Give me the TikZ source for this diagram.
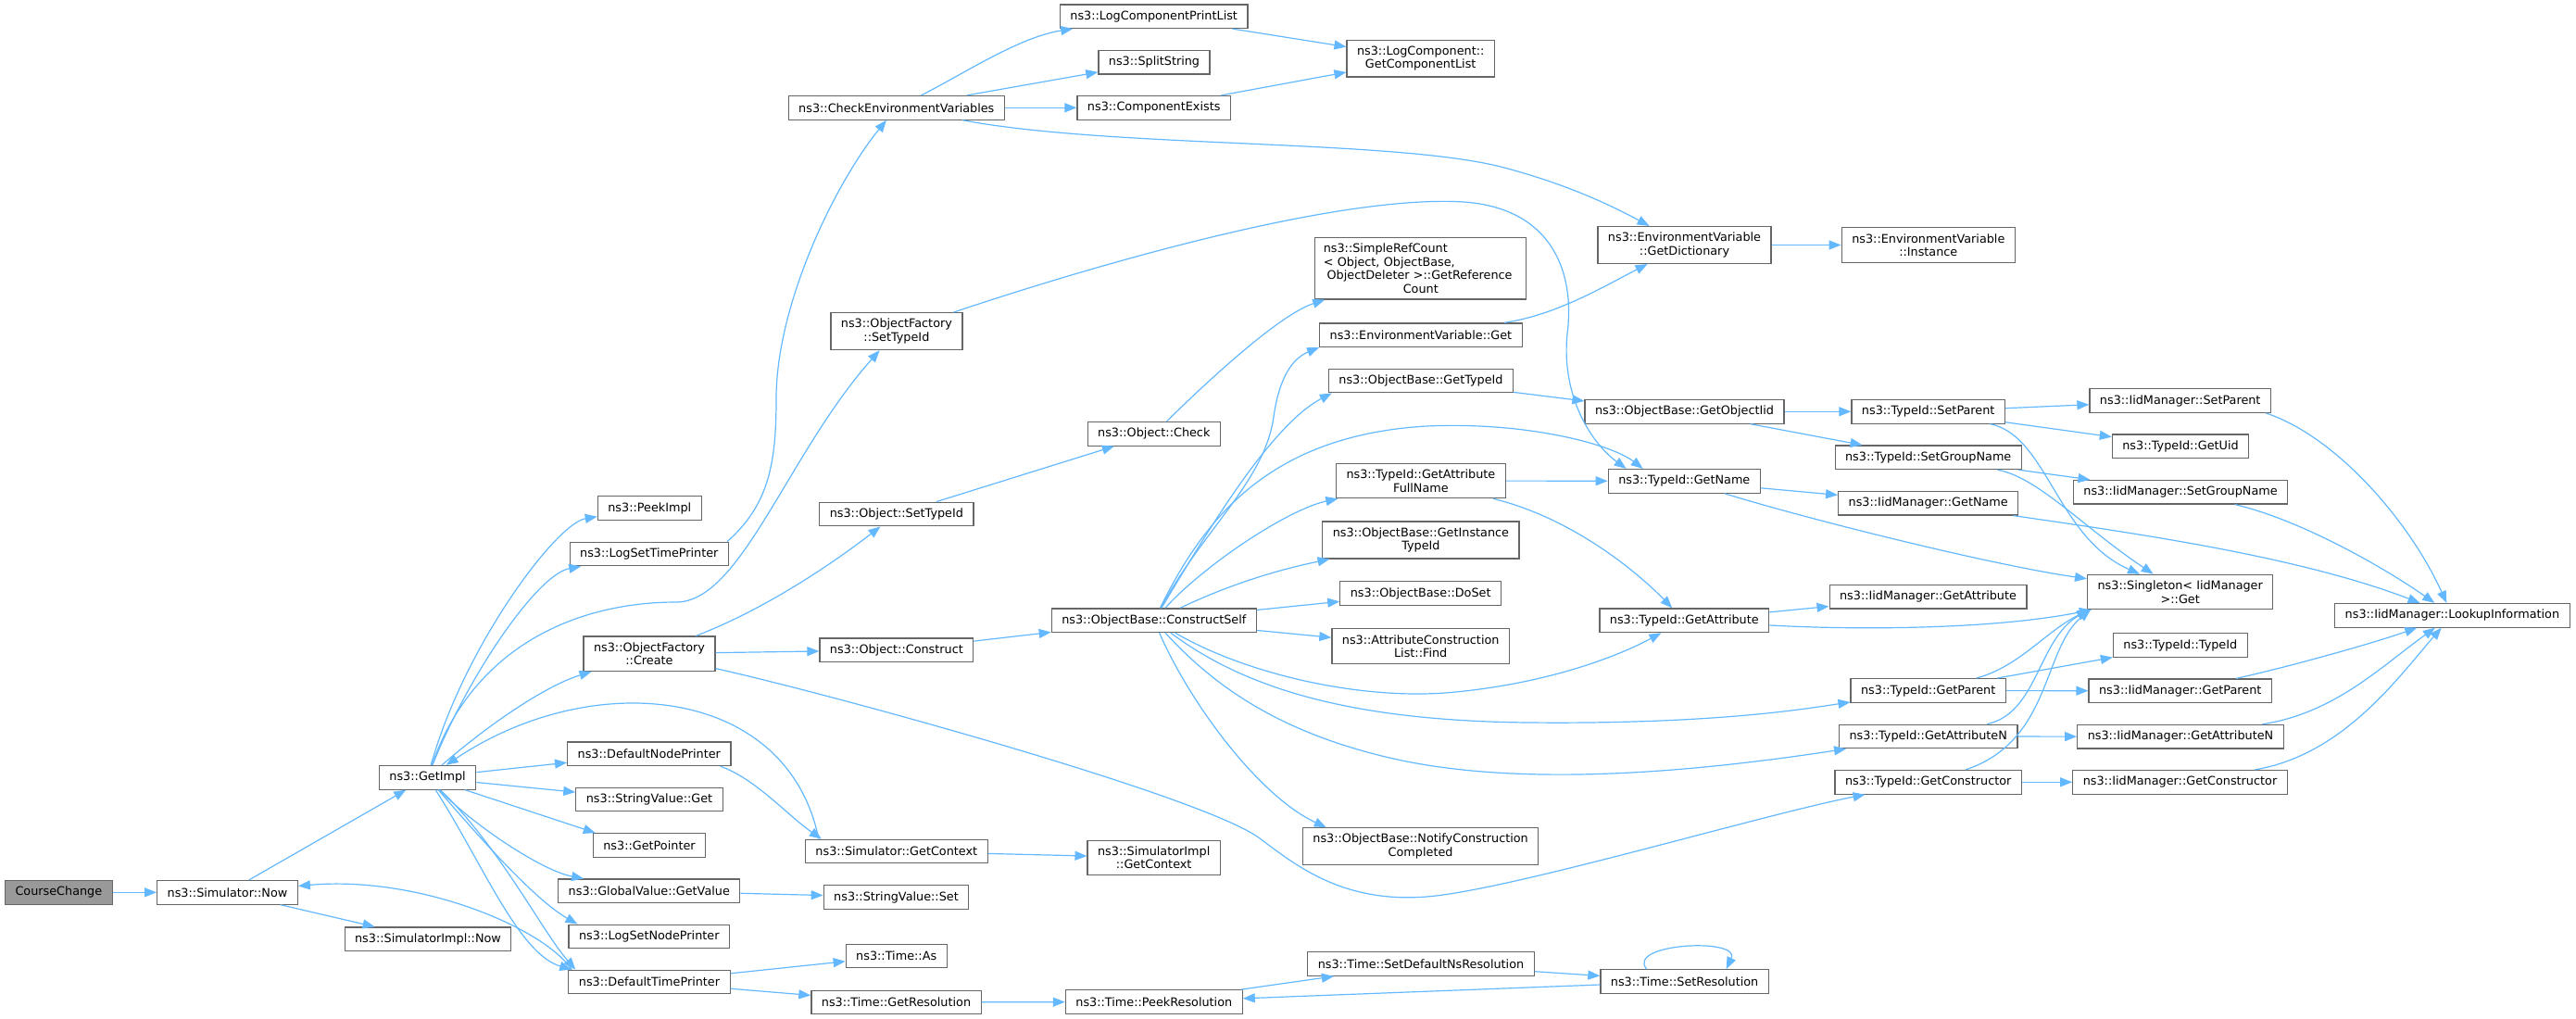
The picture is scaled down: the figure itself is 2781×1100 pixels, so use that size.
\documentclass[tikz,border=0pt]{standalone}
\usepackage{fontspec}
\setmainfont{DejaVu Sans}
\usetikzlibrary{arrows.meta}
\definecolor{doxblue}{HTML}{63B8FF}
\definecolor{doxgray}{HTML}{666666}
\definecolor{doxroot}{HTML}{999999}
\newcommand{\fnfont}{\fontsize{12.8pt}{14.5pt}\selectfont}

\begin{document}
\begin{tikzpicture}[x=1pt, y=-1pt,
    fn/.style={draw=doxgray, line width=1.2pt, fill=white, inner xsep=11pt, inner ysep=6.5pt,
      minimum height=25.6pt, font=\fnfont, align=center},
    rootfn/.style={fn, fill=doxroot},
    call/.style={doxblue, line width=1.2pt, -{Triangle[length=13pt, width=10pt]}}]
  \useasboundingbox (0,0) rectangle (2781,1100);

  % Caller and the simulator
  \node[rootfn] (course) at (63.4,963.3) {CourseChange};
  \node[fn] (simnow) at (245.5,963.3) {ns3::Simulator::Now};
  \node[fn] (getimpl) at (461.6,839.3) {ns3::GetImpl};
  \node[fn] (simimplnow) at (462,1013.8) {ns3::SimulatorImpl::Now};

  % Callees of GetImpl
  \node[fn] (peekimpl) at (701.3,548.5) {ns3::PeekImpl};
  \node[fn] (logsettime) at (700.8,598) {ns3::LogSetTimePrinter};
  \node[fn] (ofcreate) at (701,705.7) {ns3::ObjectFactory\\::Create};
  \node[fn] (defnode) at (700.8,813.8) {ns3::DefaultNodePrinter};
  \node[fn] (svget) at (701,863) {ns3::StringValue::Get};
  \node[fn] (getpointer) at (701,912.5) {ns3::GetPointer};
  \node[fn] (gvgetvalue) at (700.8,961.8) {ns3::GlobalValue::GetValue};
  \node[fn] (logsetnode) at (700.8,1011) {ns3::LogSetNodePrinter};
  \node[fn] (deftime) at (701,1060) {ns3::DefaultTimePrinter};

  % Next rank
  \node[fn] (checkenv) at (967.8,116.3) {ns3::CheckEnvironmentVariables};
  \node[fn] (ofsettypeid) at (967.9,357.7) {ns3::ObjectFactory\\::SetTypeId};
  \node[fn] (objsettypeid) at (967.9,555) {ns3::Object::SetTypeId};
  \node[fn] (objconstruct) at (967.9,701.7) {ns3::Object::Construct};
  \node[fn] (simgetctx) at (967.8,919) {ns3::Simulator::GetContext};
  \node[fn] (svset) at (967.5,968.5) {ns3::StringValue::Set};
  \node[fn] (timeas) at (967.7,1032) {ns3::Time::As};
  \node[fn] (timegetres) at (967.5,1082) {ns3::Time::GetResolution};

  \node[fn] (logprintlist) at (1245.7,17.7) {ns3::LogComponentPrintList};
  \node[fn] (splitstring) at (1246,67.2) {ns3::SplitString};
  \node[fn] (compexists) at (1245.7,116.3) {ns3::ComponentExists};
  \node[fn] (objcheck) at (1245.8,468.3) {ns3::Object::Check};
  \node[fn] (constructself) at (1245.8,669.7) {ns3::ObjectBase::ConstructSelf};
  \node[fn] (simimplctx) at (1245.7,925.8) {ns3::SimulatorImpl\\::GetContext};
  \node[fn] (peekres) at (1245.8,1081.5) {ns3::Time::PeekResolution};

  \node[fn] (getcomplist) at (1533.7,63.2) {ns3::LogComponent::\\GetComponentList};
  \node[fn, align=left, text width=210pt, inner xsep=9pt] (refcount) at (1533.8,289.8)
    {ns3::SimpleRefCount\\< Object, ObjectBase,\\\hspace*{0.3em}ObjectDeleter >::GetReference\\\makebox[210pt]{Count}};
  \node[fn] (envget) at (1533.9,361.7) {ns3::EnvironmentVariable::Get};
  \node[fn] (obgettypeid) at (1534,411) {ns3::ObjectBase::GetTypeId};
  \node[fn] (attrfullname) at (1533.9,519) {ns3::TypeId::GetAttribute\\FullName};
  \node[fn] (instancetypeid) at (1533.9,583) {ns3::ObjectBase::GetInstance\\TypeId};
  \node[fn] (doset) at (1533.7,640.5) {ns3::ObjectBase::DoSet};
  \node[fn] (acfind) at (1533.7,697.5) {ns3::AttributeConstruction\\List::Find};
  \node[fn] (notify) at (1533.6,913.7) {ns3::ObjectBase::NotifyConstruction\\Completed};
  \node[fn] (setdefns) at (1534,1040.5) {ns3::Time::SetDefaultNsResolution};

  \node[fn] (getdict) at (1818.5,264.5) {ns3::EnvironmentVariable\\::GetDictionary};
  \node[fn] (getobjectiid) at (1818.5,444.3) {ns3::ObjectBase::GetObjectIid};
  \node[fn] (tidgetname) at (1818.3,519.3) {ns3::TypeId::GetName};
  \node[fn] (tidgetattr) at (1818.3,669.8) {ns3::TypeId::GetAttribute};
  \node[fn] (setres) at (1818.6,1059.5) {ns3::Time::SetResolution};

  \node[fn] (envinstance) at (2081.8,264.5) {ns3::EnvironmentVariable\\::Instance};
  \node[fn] (tidsetparent) at (2081.7,444.3) {ns3::TypeId::SetParent};
  \node[fn] (tidsetgroup) at (2081.7,493.8) {ns3::TypeId::SetGroupName};
  \node[fn] (iidgetname) at (2081.7,543.2) {ns3::IidManager::GetName};
  \node[fn] (iidgetattr) at (2081.5,644.2) {ns3::IidManager::GetAttribute};
  \node[fn] (tidgetparent) at (2081.7,745.5) {ns3::TypeId::GetParent};
  \node[fn] (tidgetattrn) at (2081.7,795) {ns3::TypeId::GetAttributeN};
  \node[fn] (tidgetctor) at (2081.7,844.3) {ns3::TypeId::GetConstructor};

  \node[fn] (iidsetparent) at (2353.7,432.5) {ns3::IidManager::SetParent};
  \node[fn] (tidgetuid) at (2354,481.8) {ns3::TypeId::GetUid};
  \node[fn] (iidsetgroup) at (2354,531.2) {ns3::IidManager::SetGroupName};
  \node[fn] (singleton) at (2353.7,639) {ns3::Singleton< IidManager\\>::Get};
  \node[fn] (tidtypeid) at (2353.8,696.5) {ns3::TypeId::TypeId};
  \node[fn] (iidgetparent) at (2353.7,745.8) {ns3::IidManager::GetParent};
  \node[fn] (iidgetattrn) at (2354,795.2) {ns3::IidManager::GetAttributeN};
  \node[fn] (iidgetctor) at (2353.5,844.3) {ns3::IidManager::GetConstructor};
  \node[fn] (lookup) at (2647.4,664.3) {ns3::IidManager::LookupInformation};

  % Calls of the caller and of Simulator::Now
  \draw[call] (course) -- (simnow);
  \draw[call] (simnow) -- (getimpl);
  \draw[call] (simnow) -- (simimplnow);

  % Calls of GetImpl
  \draw[call] (getimpl) .. controls (500,700) and (600,565) .. (peekimpl);
  \draw[call] (getimpl) .. controls (505,730) and (580,620) .. (logsettime);
  \draw[call] (getimpl) .. controls (530,780) and (590,740) .. (ofcreate);
  \draw[call] (getimpl) .. controls (510,700) and (620,650) .. (730,650)
    .. controls (800,650) and (850,490) .. (ofsettypeid);
  \draw[call] (getimpl) -- (defnode);
  \draw[call] (getimpl) -- (svget);
  \draw[call] (getimpl) -- ([xshift=3pt]getpointer.north west);
  \draw[call] (getimpl) .. controls (510,890) and (585,940) .. ([xshift=28pt]gvgetvalue.north west);
  \draw[call] (getimpl) .. controls (510,895) and (575,970) .. ([xshift=10pt]logsetnode.north west);
  \draw[call] (getimpl) .. controls (520,930) and (560,1030) .. ([xshift=4pt]deftime.north west);
  \draw[call] (getimpl) .. controls (540,915) and (585,1005) .. ([xshift=8pt]deftime.north west);

  % Calls back into the simulator
  \draw[call] ([xshift=15pt]simgetctx.north west) .. controls (850,740) and (640,720) .. (getimpl);
  \draw[call] ([xshift=4pt]deftime.north west) .. controls (585,1000) and (450,945) .. (simnow);
  \draw[call] ([xshift=-12pt]defnode.south east) .. controls (815,840) and (850,880) .. ([xshift=18pt]simgetctx.north west);

  % Printers and values
  \draw[call] (gvgetvalue) -- (svset);
  \draw[call] (deftime) -- (timeas);
  \draw[call] (deftime) -- (timegetres);
  \draw[call] (simgetctx) -- (simimplctx);
  \draw[call] ([xshift=-2pt]logsettime.north east) .. controls (830,545) and (838,500) .. (838,430)
    .. controls (838,330) and (900,200) .. (checkenv);

  % ObjectFactory and Object
  \draw[call] (ofcreate) .. controls (820,660) and (890,615) .. (objsettypeid);
  \draw[call] (ofcreate) -- (objconstruct);
  \draw[call] (ofcreate) .. controls (900,750) and (1300,860) .. (1360,905)
    .. controls (1400,935) and (1450,975) .. (1540,968)
    .. controls (1630,961) and (1900,880) .. (tidgetctor);
  \draw[call] (objsettypeid) -- (objcheck);
  \draw[call] (objconstruct) -- (constructself);
  \draw[call] (objcheck) .. controls (1300,415) and (1380,340) .. (refcount);
  \draw[call] (ofsettypeid) .. controls (1200,280) and (1450,210) .. (1580,218)
    .. controls (1680,225) and (1700,300) .. (1692,360)
    .. controls (1685,430) and (1720,480) .. ([xshift=20pt]tidgetname.north west);

  % CheckEnvironmentVariables
  \draw[call] (checkenv) .. controls (1040,80) and (1100,40) .. (logprintlist);
  \draw[call] (checkenv) -- (splitstring);
  \draw[call] (checkenv) -- (compexists);
  \draw[call] (checkenv) .. controls (1200,160) and (1500,150) .. (1620,180)
    .. controls (1690,198) and (1740,222) .. (getdict);
  \draw[call] (logprintlist) -- (getcomplist);
  \draw[call] (compexists) -- (getcomplist);
  \draw[call] (envget) .. controls (1680,340) and (1730,310) .. (getdict);
  \draw[call] (getdict) -- (envinstance);

  % ConstructSelf
  \draw[call] (constructself) .. controls (1300,570) and (1365,520) .. (1375,450)
    .. controls (1382,400) and (1400,385) .. (envget.south west);
  \draw[call] (constructself) .. controls (1300,580) and (1370,460) .. ([xshift=4pt]obgettypeid.south west);
  \draw[call] (constructself) .. controls (1300,560) and (1370,470) .. (1540,460)
    .. controls (1650,455) and (1740,480) .. ([xshift=38pt]tidgetname.north west);
  \draw[call] (constructself) .. controls (1300,610) and (1390,550) .. (attrfullname);
  \draw[call] (constructself) .. controls (1340,625) and (1395,612) .. (instancetypeid);
  \draw[call] (constructself) -- (doset);
  \draw[call] (constructself) -- (acfind);
  \draw[call] (constructself) .. controls (1340,725) and (1460,755) .. (1560,748)
    .. controls (1660,740) and (1740,712) .. (tidgetattr);
  \draw[call] (constructself) .. controls (1340,740) and (1450,778) .. (1650,780)
    .. controls (1850,782) and (1950,765) .. (tidgetparent);
  \draw[call] (constructself) .. controls (1310,740) and (1380,790) .. (1500,818)
    .. controls (1650,853) and (1850,830) .. (tidgetattrn);
  \draw[call] (constructself) .. controls (1285,760) and (1360,860) .. ([xshift=26pt]notify.north west);

  % TypeId
  \draw[call] (obgettypeid) -- ([yshift=-2pt]getobjectiid.north west);
  \draw[call] (attrfullname) -- (tidgetname);
  \draw[call] (attrfullname) .. controls (1700,560) and (1770,620) .. (tidgetattr);
  \draw[call] (getobjectiid) -- (tidsetparent);
  \draw[call] (getobjectiid) -- (tidsetgroup);
  \draw[call] (tidgetname) -- (iidgetname);
  \draw[call] (tidgetname) .. controls (1950,560) and (2150,610) .. (singleton);
  \draw[call] (tidgetattr) -- (iidgetattr);
  \draw[call] (tidgetattr) .. controls (2000,680) and (2150,680) .. (singleton);
  \draw[call] (tidsetparent) -- (iidsetparent);
  \draw[call] (tidsetparent) -- (tidgetuid);
  \draw[call] (tidsetparent) .. controls (2210,470) and (2220,580) .. (singleton);
  \draw[call] (tidsetgroup) -- (iidsetgroup);
  \draw[call] (tidsetgroup) .. controls (2200,515) and (2250,570) .. (singleton);
  \draw[call] (tidgetparent) .. controls (2180,720) and (2210,680) .. ([xshift=3pt]singleton.south west);
  \draw[call] (tidgetparent) -- (tidtypeid);
  \draw[call] (tidgetparent) -- (iidgetparent);
  \draw[call] (tidgetattrn) .. controls (2200,770) and (2200,690) .. ([xshift=2pt]singleton.south west);
  \draw[call] (tidgetattrn) -- (iidgetattrn);
  \draw[call] (tidgetctor) .. controls (2215,800) and (2205,700) .. ([xshift=4pt]singleton.south west);
  \draw[call] (tidgetctor) -- (iidgetctor);

  % IidManager
  \draw[call] (iidgetname) .. controls (2300,575) and (2480,600) .. (lookup);
  \draw[call] ([xshift=-6pt]iidsetparent.south east) .. controls (2520,470) and (2600,560) .. (lookup);
  \draw[call] (iidsetgroup) .. controls (2480,560) and (2570,610) .. (lookup);
  \draw[call] (iidgetparent) .. controls (2470,720) and (2560,695) .. (lookup);
  \draw[call] (iidgetattrn) .. controls (2520,770) and (2570,720) .. (lookup);
  \draw[call] (iidgetctor) .. controls (2530,815) and (2590,730) .. (lookup);

  % Time
  \draw[call] (timegetres) -- (peekres);
  \draw[call] (peekres) -- (setdefns);
  \draw[call] (setdefns) -- (setres);
  \draw[call] (setres) -- (peekres);
  \draw[call] ([xshift=-41pt]setres.north) .. controls (1755,1018) and (1880,1012) .. ([xshift=45pt]setres.north);
\end{tikzpicture}
\end{document}
